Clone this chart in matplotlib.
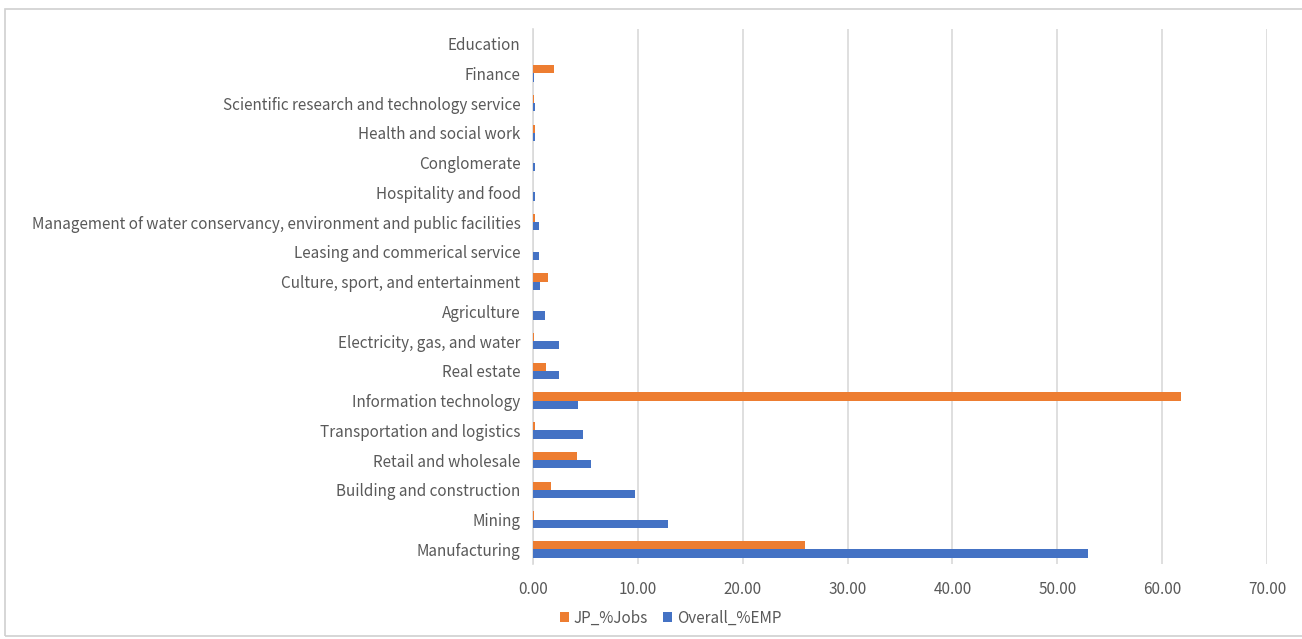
import matplotlib.pyplot as plt
import numpy as np
from matplotlib.patches import Rectangle

plt.rcParams["font.family"] = ["Noto Sans CJK SC", "DejaVu Sans"]

# Industries, bottom to top as drawn on the y axis
industries = [
    "Manufacturing",
    "Mining",
    "Building and construction",
    "Retail and wholesale",
    "Transportation and logistics",
    "Information technology",
    "Real estate",
    "Electricity, gas, and water",
    "Agriculture",
    "Culture, sport, and entertainment",
    "Leasing and commerical service",
    "Management of water conservancy, environment and public facilities",
    "Hospitality and food",
    "Conglomerate",
    "Health and social work",
    "Scientific research and technology service",
    "Finance",
    "Education",
]
jp_jobs = [25.9, 0.1, 1.7, 4.2, 0.2, 61.8, 1.25, 0.1, 0.0, 1.4, 0.0, 0.15, 0.0, 0.0, 0.2, 0.1, 2.0, 0.0]
overall_emp = [52.9, 12.9, 9.7, 5.5, 4.8, 4.3, 2.5, 2.5, 1.15, 0.7, 0.55, 0.55, 0.2, 0.2, 0.2, 0.2, 0.1, 0.0]
x_ticks = [0, 10, 20, 30, 40, 50, 60, 70]

ORANGE = "#ED7D31"
BLUE = "#4472C4"
TEXT = "#595959"
GRID = "#d9d9d9"

fig = plt.figure(figsize=(13.02, 6.39), dpi=100)
ax = fig.add_axes([0.4094, 0.117, 0.5637, 0.838])

y = np.arange(len(industries))
h = 0.28
ax.barh(y + h / 2, jp_jobs, height=h, color=ORANGE, label="JP_%Jobs", zorder=3)
ax.barh(y - h / 2, overall_emp, height=h, color=BLUE, label="Overall_%EMP", zorder=3)

ax.set_ylim(-0.5, len(industries) - 0.5)
ax.set_xlim(0, 70)
ax.set_xticks(x_ticks)
ax.set_xticklabels([f"{v:.2f}" for v in x_ticks])
ax.set_yticks(y)
ax.set_yticklabels(industries)
ax.tick_params(axis="both", length=0, colors=TEXT, labelsize=11)
ax.tick_params(axis="x", pad=12)
ax.tick_params(axis="y", pad=9)

ax.grid(axis="x", color=GRID, linewidth=1.2, zorder=0)
for side in ("top", "right", "bottom"):
    ax.spines[side].set_visible(False)
ax.spines["left"].set_color(GRID)
ax.spines["left"].set_linewidth(1.2)

fig.legend(loc="center", bbox_to_anchor=(0.515, 0.033), ncol=2, frameon=False,
           fontsize=11, labelcolor=TEXT, handlelength=0.6, handleheight=0.6,
           handletextpad=0.3, columnspacing=1.0)

# light chart-area border
fig.patches.append(Rectangle((0.004, 0.004), 1.2, 0.982, transform=fig.transFigure,
                             fill=False, edgecolor="#d0d0d0", linewidth=1.2))

fig.savefig("out.png", dpi=100)
